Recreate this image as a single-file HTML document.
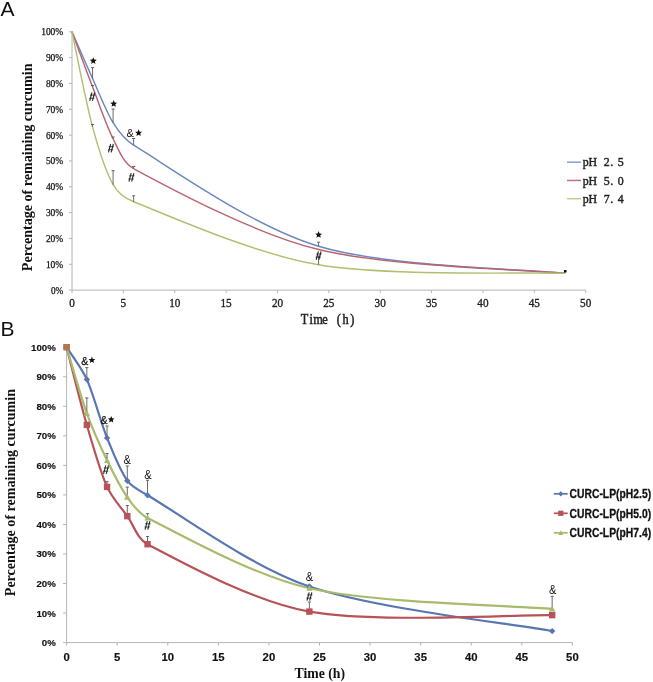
<!DOCTYPE html><html><head><meta charset="utf-8"><style>html,body{margin:0;padding:0;background:#fff;overflow:hidden;width:653px;height:682px}svg{display:block;filter:blur(0.3px)}</style></head><body>
<svg width="653" height="682" viewBox="0 0 653 682">
<rect width="653" height="682" fill="#fff"/>
<text x="0.5" y="16" font-family="Liberation Sans" font-size="21" fill="#111">A</text>
<text x="0.5" y="336.4" font-family="Liberation Sans" font-size="21" fill="#111">B</text>
<g stroke="#b4b4b4" stroke-width="1" fill="none">
<line x1="72.0" y1="31.3" x2="72.0" y2="290.1"/>
<line x1="72.0" y1="290.1" x2="585.7" y2="290.1"/>
<line x1="69.0" y1="290.10" x2="72.0" y2="290.10"/>
<line x1="69.0" y1="264.27" x2="72.0" y2="264.27"/>
<line x1="69.0" y1="238.44" x2="72.0" y2="238.44"/>
<line x1="69.0" y1="212.61" x2="72.0" y2="212.61"/>
<line x1="69.0" y1="186.78" x2="72.0" y2="186.78"/>
<line x1="69.0" y1="160.95" x2="72.0" y2="160.95"/>
<line x1="69.0" y1="135.12" x2="72.0" y2="135.12"/>
<line x1="69.0" y1="109.29" x2="72.0" y2="109.29"/>
<line x1="69.0" y1="83.46" x2="72.0" y2="83.46"/>
<line x1="69.0" y1="57.63" x2="72.0" y2="57.63"/>
<line x1="69.0" y1="31.80" x2="72.0" y2="31.80"/>
<line x1="72.00" y1="290.1" x2="72.00" y2="293.1"/>
<line x1="123.37" y1="290.1" x2="123.37" y2="293.1"/>
<line x1="174.74" y1="290.1" x2="174.74" y2="293.1"/>
<line x1="226.11" y1="290.1" x2="226.11" y2="293.1"/>
<line x1="277.48" y1="290.1" x2="277.48" y2="293.1"/>
<line x1="328.85" y1="290.1" x2="328.85" y2="293.1"/>
<line x1="380.22" y1="290.1" x2="380.22" y2="293.1"/>
<line x1="431.59" y1="290.1" x2="431.59" y2="293.1"/>
<line x1="482.96" y1="290.1" x2="482.96" y2="293.1"/>
<line x1="534.33" y1="290.1" x2="534.33" y2="293.1"/>
<line x1="585.70" y1="290.1" x2="585.70" y2="293.1"/>
</g>
<g font-family="Liberation Serif" font-size="10" fill="#111" stroke="#111" stroke-width="0.25" text-anchor="end">
<text x="63.2" y="293.50" textLength="12.3" lengthAdjust="spacingAndGlyphs">0%</text>
<text x="63.2" y="267.67" textLength="17.3" lengthAdjust="spacingAndGlyphs">10%</text>
<text x="63.2" y="241.84" textLength="17.3" lengthAdjust="spacingAndGlyphs">20%</text>
<text x="63.2" y="216.01" textLength="17.3" lengthAdjust="spacingAndGlyphs">30%</text>
<text x="63.2" y="190.18" textLength="17.3" lengthAdjust="spacingAndGlyphs">40%</text>
<text x="63.2" y="164.35" textLength="17.3" lengthAdjust="spacingAndGlyphs">50%</text>
<text x="63.2" y="138.52" textLength="17.3" lengthAdjust="spacingAndGlyphs">60%</text>
<text x="63.2" y="112.69" textLength="17.3" lengthAdjust="spacingAndGlyphs">70%</text>
<text x="63.2" y="86.86" textLength="17.3" lengthAdjust="spacingAndGlyphs">80%</text>
<text x="63.2" y="61.03" textLength="17.3" lengthAdjust="spacingAndGlyphs">90%</text>
<text x="63.2" y="35.20" textLength="22.0" lengthAdjust="spacingAndGlyphs">100%</text>
</g>
<g font-family="Liberation Serif" font-size="12" fill="#222" stroke="#222" stroke-width="0.35" text-anchor="middle">
<text x="72.00" y="306.6" textLength="5.6" lengthAdjust="spacingAndGlyphs">0</text>
<text x="123.37" y="306.6" textLength="5.6" lengthAdjust="spacingAndGlyphs">5</text>
<text x="174.74" y="306.6" textLength="11.2" lengthAdjust="spacingAndGlyphs">10</text>
<text x="226.11" y="306.6" textLength="11.2" lengthAdjust="spacingAndGlyphs">15</text>
<text x="277.48" y="306.6" textLength="11.2" lengthAdjust="spacingAndGlyphs">20</text>
<text x="328.85" y="306.6" textLength="11.2" lengthAdjust="spacingAndGlyphs">25</text>
<text x="380.22" y="306.6" textLength="11.2" lengthAdjust="spacingAndGlyphs">30</text>
<text x="431.59" y="306.6" textLength="11.2" lengthAdjust="spacingAndGlyphs">35</text>
<text x="482.96" y="306.6" textLength="11.2" lengthAdjust="spacingAndGlyphs">40</text>
<text x="534.33" y="306.6" textLength="11.2" lengthAdjust="spacingAndGlyphs">45</text>
<text x="585.70" y="306.6" textLength="11.2" lengthAdjust="spacingAndGlyphs">50</text>
</g>
<g font-family="Liberation Serif" font-weight="normal" font-size="14.5" fill="#222" stroke="#222" stroke-width="0.5" text-anchor="middle"><text transform="translate(304.43,324.20) scale(0.85,1)">T</text><text transform="translate(311.27,324.20) scale(0.85,1)">i</text><text transform="translate(318.12,324.20) scale(0.85,1)">m</text><text transform="translate(324.98,324.20) scale(0.85,1)">e</text><text transform="translate(338.68,324.20) scale(0.85,1)">(</text><text transform="translate(345.52,324.20) scale(0.85,1)">h</text><text transform="translate(352.38,324.20) scale(0.85,1)">)</text></g>
<text transform="translate(32.0,271.2) rotate(-90)" font-family="Liberation Serif" font-weight="bold" font-size="15" fill="#111" textLength="207.7" lengthAdjust="spacingAndGlyphs">Percentage of remaining curcumin</text>
<path d="M72.00,31.80 C75.42,39.59 85.70,63.40 92.55,78.55 C99.17,93.20 106.25,111.61 113.10,122.72 C118.37,131.27 125.03,140.02 133.64,145.19 C167.89,165.77 251.92,226.40 318.58,246.19 C390.49,267.54 524.06,268.79 565.15,273.31" fill="none" stroke="#6a88bf" stroke-width="1.45"/>
<path d="M72.00,31.80 C75.42,40.97 85.70,69.00 92.55,86.82 C99.16,104.02 106.25,125.09 113.10,138.74 C118.47,149.45 123.09,163.01 133.64,168.70 C167.89,187.17 253.85,233.85 318.58,249.55 C390.49,266.98 524.06,269.35 565.15,273.31" fill="none" stroke="#bb6470" stroke-width="1.45"/>
<path d="M72.00,31.80 C75.42,47.64 85.70,101.37 92.55,126.85 C97.81,146.42 106.25,172.23 113.10,184.71 C117.33,192.44 125.43,198.56 133.64,201.76 C167.89,215.11 254.97,254.24 318.58,264.79 C390.49,276.71 524.06,271.89 565.15,273.31" fill="none" stroke="#b0c070" stroke-width="1.45"/>
<g stroke="#5a5a5a" stroke-width="0.9"><line x1="92.55" y1="78.55" x2="92.55" y2="67.60"/><line x1="90.95" y1="67.60" x2="94.15" y2="67.60"/></g>
<g stroke="#5a5a5a" stroke-width="0.9"><line x1="113.10" y1="122.72" x2="113.10" y2="109.00"/><line x1="111.50" y1="109.00" x2="114.70" y2="109.00"/></g>
<g stroke="#5a5a5a" stroke-width="0.9"><line x1="133.64" y1="145.19" x2="133.64" y2="138.50"/><line x1="132.04" y1="138.50" x2="135.24" y2="138.50"/></g>
<g stroke="#5a5a5a" stroke-width="0.9"><line x1="318.58" y1="246.19" x2="318.58" y2="242.20"/><line x1="316.98" y1="242.20" x2="320.18" y2="242.20"/></g>
<g stroke="#5a5a5a" stroke-width="0.9"><line x1="92.55" y1="86.82" x2="92.55" y2="85.50"/><line x1="90.95" y1="85.50" x2="94.15" y2="85.50"/></g>
<g stroke="#5a5a5a" stroke-width="0.9"><line x1="113.10" y1="138.74" x2="113.10" y2="137.00"/><line x1="111.50" y1="137.00" x2="114.70" y2="137.00"/></g>
<g stroke="#5a5a5a" stroke-width="0.9"><line x1="133.64" y1="168.70" x2="133.64" y2="166.50"/><line x1="132.04" y1="166.50" x2="135.24" y2="166.50"/></g>
<g stroke="#5a5a5a" stroke-width="0.9"><line x1="92.55" y1="126.85" x2="92.55" y2="124.50"/><line x1="90.95" y1="124.50" x2="94.15" y2="124.50"/></g>
<g stroke="#5a5a5a" stroke-width="0.9"><line x1="113.10" y1="184.71" x2="113.10" y2="170.70"/><line x1="111.50" y1="170.70" x2="114.70" y2="170.70"/></g>
<g stroke="#5a5a5a" stroke-width="0.9"><line x1="133.64" y1="201.76" x2="133.64" y2="195.80"/><line x1="132.04" y1="195.80" x2="135.24" y2="195.80"/></g>
<g stroke="#5a5a5a" stroke-width="0.9"><line x1="318.58" y1="264.79" x2="318.58" y2="256.00"/><line x1="316.98" y1="256.00" x2="320.18" y2="256.00"/></g>
<polygon points="93.30,57.20 94.28,59.55 96.82,59.76 94.88,61.41 95.47,63.89 93.30,62.56 91.13,63.89 91.72,61.41 89.78,59.76 92.32,59.55" fill="#111"/><polygon points="113.70,100.10 114.68,102.45 117.22,102.66 115.28,104.31 115.87,106.79 113.70,105.47 111.53,106.79 112.12,104.31 110.18,102.66 112.72,102.45" fill="#111"/><polygon points="318.60,231.10 319.58,233.45 322.12,233.66 320.18,235.31 320.77,237.79 318.60,236.47 316.43,237.79 317.02,235.31 315.08,233.66 317.62,233.45" fill="#111"/><text x="126.6" y="137" font-family="Liberation Sans" font-size="11" fill="#111">&amp;</text><polygon points="138.60,129.30 139.58,131.65 142.12,131.86 140.18,133.51 140.77,135.99 138.60,134.66 136.43,135.99 137.02,133.51 135.08,131.86 137.62,131.65" fill="#111"/><g stroke="#262626" fill="none"><line x1="91.95" y1="92.50" x2="89.75" y2="100.90" stroke-width="1.1"/><line x1="94.65" y1="92.50" x2="92.45" y2="100.90" stroke-width="1.1"/><line x1="90.00" y1="95.10" x2="95.20" y2="95.10" stroke-width="0.85"/><line x1="89.20" y1="98.30" x2="94.40" y2="98.30" stroke-width="0.85"/></g><g stroke="#262626" fill="none"><line x1="110.65" y1="144.00" x2="108.45" y2="152.40" stroke-width="1.1"/><line x1="113.35" y1="144.00" x2="111.15" y2="152.40" stroke-width="1.1"/><line x1="108.70" y1="146.60" x2="113.90" y2="146.60" stroke-width="0.85"/><line x1="107.90" y1="149.80" x2="113.10" y2="149.80" stroke-width="0.85"/></g><g stroke="#262626" fill="none"><line x1="131.15" y1="173.20" x2="128.95" y2="181.60" stroke-width="1.1"/><line x1="133.85" y1="173.20" x2="131.65" y2="181.60" stroke-width="1.1"/><line x1="129.20" y1="175.80" x2="134.40" y2="175.80" stroke-width="0.85"/><line x1="128.40" y1="179.00" x2="133.60" y2="179.00" stroke-width="0.85"/></g><g stroke="#262626" fill="none"><line x1="318.35" y1="251.40" x2="316.15" y2="259.80" stroke-width="1.1"/><line x1="321.05" y1="251.40" x2="318.85" y2="259.80" stroke-width="1.1"/><line x1="316.40" y1="254.00" x2="321.60" y2="254.00" stroke-width="0.85"/><line x1="315.60" y1="257.20" x2="320.80" y2="257.20" stroke-width="0.85"/></g>
<rect x="564" y="270" width="2.5" height="2.5" fill="#111"/>
<line x1="567" y1="162.20" x2="581" y2="162.20" stroke="#8a9fd0" stroke-width="1.5"/>
<g font-family="Liberation Serif" font-weight="normal" font-size="13.5" fill="#222" stroke="#222" stroke-width="0.45" text-anchor="middle"><text transform="translate(585.80,166.40) scale(0.88,1)">p</text><text transform="translate(592.80,166.40) scale(0.88,1)">H</text><text transform="translate(606.80,166.40) scale(0.88,1)">2</text><text transform="translate(611.80,166.40) scale(0.88,1)">.</text><text transform="translate(620.80,166.40) scale(0.88,1)">5</text></g>
<line x1="567" y1="180.45" x2="581" y2="180.45" stroke="#c07080" stroke-width="1.5"/>
<g font-family="Liberation Serif" font-weight="normal" font-size="13.5" fill="#222" stroke="#222" stroke-width="0.45" text-anchor="middle"><text transform="translate(585.80,184.65) scale(0.88,1)">p</text><text transform="translate(592.80,184.65) scale(0.88,1)">H</text><text transform="translate(606.80,184.65) scale(0.88,1)">5</text><text transform="translate(611.80,184.65) scale(0.88,1)">.</text><text transform="translate(620.80,184.65) scale(0.88,1)">0</text></g>
<line x1="567" y1="198.70" x2="581" y2="198.70" stroke="#c0cf8a" stroke-width="1.5"/>
<g font-family="Liberation Serif" font-weight="normal" font-size="13.5" fill="#222" stroke="#222" stroke-width="0.45" text-anchor="middle"><text transform="translate(585.80,202.90) scale(0.88,1)">p</text><text transform="translate(592.80,202.90) scale(0.88,1)">H</text><text transform="translate(606.80,202.90) scale(0.88,1)">7</text><text transform="translate(611.80,202.90) scale(0.88,1)">.</text><text transform="translate(620.80,202.90) scale(0.88,1)">4</text></g>
<g stroke="#b4b4b4" stroke-width="1" fill="none">
<line x1="66.6" y1="347.2" x2="66.6" y2="642.6"/>
<line x1="66.6" y1="642.6" x2="572.4" y2="642.6"/>
<line x1="63.099999999999994" y1="642.60" x2="66.6" y2="642.60"/>
<line x1="63.099999999999994" y1="613.06" x2="66.6" y2="613.06"/>
<line x1="63.099999999999994" y1="583.52" x2="66.6" y2="583.52"/>
<line x1="63.099999999999994" y1="553.98" x2="66.6" y2="553.98"/>
<line x1="63.099999999999994" y1="524.44" x2="66.6" y2="524.44"/>
<line x1="63.099999999999994" y1="494.90" x2="66.6" y2="494.90"/>
<line x1="63.099999999999994" y1="465.36" x2="66.6" y2="465.36"/>
<line x1="63.099999999999994" y1="435.82" x2="66.6" y2="435.82"/>
<line x1="63.099999999999994" y1="406.28" x2="66.6" y2="406.28"/>
<line x1="63.099999999999994" y1="376.74" x2="66.6" y2="376.74"/>
<line x1="63.099999999999994" y1="347.20" x2="66.6" y2="347.20"/>
<line x1="66.60" y1="642.6" x2="66.60" y2="645.6"/>
<line x1="117.18" y1="642.6" x2="117.18" y2="645.6"/>
<line x1="167.76" y1="642.6" x2="167.76" y2="645.6"/>
<line x1="218.34" y1="642.6" x2="218.34" y2="645.6"/>
<line x1="268.92" y1="642.6" x2="268.92" y2="645.6"/>
<line x1="319.50" y1="642.6" x2="319.50" y2="645.6"/>
<line x1="370.08" y1="642.6" x2="370.08" y2="645.6"/>
<line x1="420.66" y1="642.6" x2="420.66" y2="645.6"/>
<line x1="471.24" y1="642.6" x2="471.24" y2="645.6"/>
<line x1="521.82" y1="642.6" x2="521.82" y2="645.6"/>
<line x1="572.40" y1="642.6" x2="572.40" y2="645.6"/>
</g>
<g font-family="Liberation Sans" font-weight="bold" font-size="9.7" fill="#111" stroke="#111" stroke-width="0.15" text-anchor="end">
<text x="55.8" y="646.10">0%</text>
<text x="55.8" y="616.56">10%</text>
<text x="55.8" y="587.02">20%</text>
<text x="55.8" y="557.48">30%</text>
<text x="55.8" y="527.94">40%</text>
<text x="55.8" y="498.40">50%</text>
<text x="55.8" y="468.86">60%</text>
<text x="55.8" y="439.32">70%</text>
<text x="55.8" y="409.78">80%</text>
<text x="55.8" y="380.24">90%</text>
<text x="55.8" y="350.70">100%</text>
</g>
<g font-family="Liberation Sans" font-weight="bold" font-size="10.4" fill="#111" stroke="#111" stroke-width="0.15" text-anchor="middle">
<text x="66.60" y="660.8" textLength="6.3" lengthAdjust="spacingAndGlyphs">0</text>
<text x="117.18" y="660.8" textLength="6.3" lengthAdjust="spacingAndGlyphs">5</text>
<text x="167.76" y="660.8" textLength="12.6" lengthAdjust="spacingAndGlyphs">10</text>
<text x="218.34" y="660.8" textLength="12.6" lengthAdjust="spacingAndGlyphs">15</text>
<text x="268.92" y="660.8" textLength="12.6" lengthAdjust="spacingAndGlyphs">20</text>
<text x="319.50" y="660.8" textLength="12.6" lengthAdjust="spacingAndGlyphs">25</text>
<text x="370.08" y="660.8" textLength="12.6" lengthAdjust="spacingAndGlyphs">30</text>
<text x="420.66" y="660.8" textLength="12.6" lengthAdjust="spacingAndGlyphs">35</text>
<text x="471.24" y="660.8" textLength="12.6" lengthAdjust="spacingAndGlyphs">40</text>
<text x="521.82" y="660.8" textLength="12.6" lengthAdjust="spacingAndGlyphs">45</text>
<text x="572.40" y="660.8" textLength="12.6" lengthAdjust="spacingAndGlyphs">50</text>
</g>
<text x="294.5" y="678" font-family="Liberation Serif" font-weight="bold" font-size="13.7" fill="#111" textLength="50.5" lengthAdjust="spacingAndGlyphs">Time (h)</text>
<text transform="translate(15.4,596.2) rotate(-90)" font-family="Liberation Serif" font-weight="bold" font-size="15" fill="#111" textLength="207.2" lengthAdjust="spacingAndGlyphs">Percentage of remaining curcumin</text>
<path d="M66.60,347.20 C69.97,352.57 81.72,367.94 86.83,379.40 C93.58,394.51 100.32,421.00 107.06,437.89 C112.86,452.41 120.55,471.17 127.30,480.72 C132.03,487.43 140.43,491.07 147.53,495.20 C177.88,512.82 251.25,566.95 309.38,586.47 C376.82,609.12 511.70,623.65 552.17,631.08" fill="none" stroke="#5876b2" stroke-width="2.2"/>
<path d="M66.60,347.20 C69.97,360.15 80.09,401.60 86.83,424.89 C92.82,445.57 100.32,471.71 107.06,486.92 C111.82,497.65 120.55,506.62 127.30,516.17 C133.88,525.49 137.42,538.93 147.53,544.23 C177.88,560.13 252.40,601.60 309.38,611.58 C376.82,623.40 511.70,614.54 552.17,615.13" fill="none" stroke="#b75259" stroke-width="2.2"/>
<path d="M66.60,347.20 C69.97,358.23 80.09,394.51 86.83,413.37 C92.52,429.26 100.32,446.36 107.06,460.34 C113.10,472.85 120.55,487.66 127.30,497.26 C132.78,505.08 138.99,513.67 147.53,517.94 C177.88,533.11 252.57,575.47 309.38,588.25 C376.82,603.41 511.70,605.48 552.17,608.92" fill="none" stroke="#a8ba6c" stroke-width="2.2"/>
<g stroke="#5a5a5a" stroke-width="0.9"><line x1="86.83" y1="379.40" x2="86.83" y2="367.60"/><line x1="85.23" y1="367.60" x2="88.43" y2="367.60"/></g>
<g stroke="#5a5a5a" stroke-width="0.9"><line x1="107.06" y1="437.89" x2="107.06" y2="426.00"/><line x1="105.46" y1="426.00" x2="108.66" y2="426.00"/></g>
<g stroke="#5a5a5a" stroke-width="0.9"><line x1="127.30" y1="480.72" x2="127.30" y2="466.00"/><line x1="125.70" y1="466.00" x2="128.90" y2="466.00"/></g>
<g stroke="#5a5a5a" stroke-width="0.9"><line x1="147.53" y1="495.20" x2="147.53" y2="480.30"/><line x1="145.93" y1="480.30" x2="149.13" y2="480.30"/></g>
<g stroke="#5a5a5a" stroke-width="0.9"><line x1="86.83" y1="413.37" x2="86.83" y2="397.90"/><line x1="85.23" y1="397.90" x2="88.43" y2="397.90"/></g>
<g stroke="#5a5a5a" stroke-width="0.9"><line x1="107.06" y1="460.34" x2="107.06" y2="453.50"/><line x1="105.46" y1="453.50" x2="108.66" y2="453.50"/></g>
<g stroke="#5a5a5a" stroke-width="0.9"><line x1="127.30" y1="497.26" x2="127.30" y2="487.10"/><line x1="125.70" y1="487.10" x2="128.90" y2="487.10"/></g>
<g stroke="#5a5a5a" stroke-width="0.9"><line x1="147.53" y1="517.94" x2="147.53" y2="513.60"/><line x1="145.93" y1="513.60" x2="149.13" y2="513.60"/></g>
<g stroke="#5a5a5a" stroke-width="0.9"><line x1="552.17" y1="608.92" x2="552.17" y2="596.30"/><line x1="550.57" y1="596.30" x2="553.77" y2="596.30"/></g>
<g stroke="#5a5a5a" stroke-width="0.9"><line x1="107.06" y1="486.92" x2="107.06" y2="481.60"/><line x1="105.46" y1="481.60" x2="108.66" y2="481.60"/></g>
<g stroke="#5a5a5a" stroke-width="0.9"><line x1="127.30" y1="516.17" x2="127.30" y2="505.50"/><line x1="125.70" y1="505.50" x2="128.90" y2="505.50"/></g>
<g stroke="#5a5a5a" stroke-width="0.9"><line x1="147.53" y1="544.23" x2="147.53" y2="536.50"/><line x1="145.93" y1="536.50" x2="149.13" y2="536.50"/></g>
<g stroke="#5a5a5a" stroke-width="0.9"><line x1="309.38" y1="611.58" x2="309.38" y2="602.00"/><line x1="307.78" y1="602.00" x2="310.98" y2="602.00"/></g>
<path d="M66.6,344.0 L69.8,347.2 L66.6,350.4 L63.39999999999999,347.2 Z" fill="#5876b2"/>
<path d="M86.832,376.1986 L90.032,379.3986 L86.832,382.5986 L83.63199999999999,379.3986 Z" fill="#5876b2"/>
<path d="M107.064,434.6878 L110.264,437.88779999999997 L107.064,441.08779999999996 L103.86399999999999,437.88779999999997 Z" fill="#5876b2"/>
<path d="M127.29599999999999,477.5208 L130.49599999999998,480.7208 L127.29599999999999,483.9208 L124.09599999999999,480.7208 Z" fill="#5876b2"/>
<path d="M147.528,491.9954 L150.72799999999998,495.1954 L147.528,498.3954 L144.328,495.1954 Z" fill="#5876b2"/>
<path d="M309.384,583.274 L312.584,586.474 L309.384,589.6740000000001 L306.184,586.474 Z" fill="#5876b2"/>
<path d="M552.168,627.8794 L555.368,631.0794000000001 L552.168,634.2794000000001 L548.968,631.0794000000001 Z" fill="#5876b2"/>
<rect x="63.39999999999999" y="344.0" width="6.4" height="6.4" fill="#b75259"/>
<rect x="83.63199999999999" y="421.6902" width="6.4" height="6.4" fill="#b75259"/>
<rect x="103.86399999999999" y="483.72420000000005" width="6.4" height="6.4" fill="#b75259"/>
<rect x="124.09599999999999" y="512.9688" width="6.4" height="6.4" fill="#b75259"/>
<rect x="144.328" y="541.0318" width="6.4" height="6.4" fill="#b75259"/>
<rect x="306.184" y="608.3829999999999" width="6.4" height="6.4" fill="#b75259"/>
<rect x="548.968" y="611.9277999999999" width="6.4" height="6.4" fill="#b75259"/>
<path d="M66.6,344.0 L69.8,349.76 L63.39999999999999,349.76 Z" fill="#a8ba6c"/>
<path d="M86.832,410.1696 L90.032,415.9296 L83.63199999999999,415.9296 Z" fill="#a8ba6c"/>
<path d="M107.064,457.1382 L110.264,462.8982 L103.86399999999999,462.8982 Z" fill="#a8ba6c"/>
<path d="M127.29599999999999,494.0632 L130.49599999999998,499.8232 L124.09599999999999,499.8232 Z" fill="#a8ba6c"/>
<path d="M147.528,514.7411999999999 L150.72799999999998,520.5011999999999 L144.328,520.5011999999999 Z" fill="#a8ba6c"/>
<path d="M309.384,585.0464 L312.584,590.8063999999999 L306.184,590.8063999999999 Z" fill="#a8ba6c"/>
<path d="M552.168,605.7244 L555.368,611.4843999999999 L548.968,611.4843999999999 Z" fill="#a8ba6c"/>
<text x="81.3" y="364.5" font-family="Liberation Sans" font-size="11.5" fill="#111" stroke="#111" stroke-width="0.25" textLength="7" lengthAdjust="spacingAndGlyphs">&amp;</text><polygon points="91.90,356.60 92.85,358.89 95.32,359.09 93.44,360.70 94.02,363.11 91.90,361.82 89.78,363.11 90.36,360.70 88.48,359.09 90.95,358.89" fill="#111"/><text x="100.6" y="423.9" font-family="Liberation Sans" font-size="11.5" fill="#111" stroke="#111" stroke-width="0.25" textLength="7" lengthAdjust="spacingAndGlyphs">&amp;</text><polygon points="111.20,416.00 112.15,418.29 114.62,418.49 112.74,420.10 113.32,422.51 111.20,421.22 109.08,422.51 109.66,420.10 107.78,418.49 110.25,418.29" fill="#111"/><g font-family="Liberation Sans" fill="#111" text-anchor="middle"><text x="127.1" y="464.1" font-size="12.8" textLength="7.4" lengthAdjust="spacingAndGlyphs">&amp;</text><text x="147.9" y="478.8" font-size="12.8" textLength="7.4" lengthAdjust="spacingAndGlyphs">&amp;</text><text x="309.4" y="581.0" font-size="12.8" textLength="7.4" lengthAdjust="spacingAndGlyphs">&amp;</text><text x="552.7" y="594.0" font-size="12.8" textLength="7.4" lengthAdjust="spacingAndGlyphs">&amp;</text></g><g stroke="#262626" fill="none"><line x1="105.75" y1="465.40" x2="103.55" y2="473.80" stroke-width="1.1"/><line x1="108.45" y1="465.40" x2="106.25" y2="473.80" stroke-width="1.1"/><line x1="103.80" y1="468.00" x2="109.00" y2="468.00" stroke-width="0.85"/><line x1="103.00" y1="471.20" x2="108.20" y2="471.20" stroke-width="0.85"/></g><g stroke="#262626" fill="none"><line x1="147.25" y1="521.20" x2="145.05" y2="529.60" stroke-width="1.1"/><line x1="149.95" y1="521.20" x2="147.75" y2="529.60" stroke-width="1.1"/><line x1="145.30" y1="523.80" x2="150.50" y2="523.80" stroke-width="0.85"/><line x1="144.50" y1="527.00" x2="149.70" y2="527.00" stroke-width="0.85"/></g><g stroke="#262626" fill="none"><line x1="309.15" y1="592.30" x2="306.95" y2="600.70" stroke-width="1.1"/><line x1="311.85" y1="592.30" x2="309.65" y2="600.70" stroke-width="1.1"/><line x1="307.20" y1="594.90" x2="312.40" y2="594.90" stroke-width="0.85"/><line x1="306.40" y1="598.10" x2="311.60" y2="598.10" stroke-width="0.85"/></g><g></g>
<rect x="63.70" y="344.30" width="5.8" height="5.8" fill="#b07a48"/>
<line x1="553.8" y1="493.80" x2="567.7" y2="493.80" stroke="#5876b2" stroke-width="1.7"/>
<path d="M560.8,491.2 L563.4,493.8 L560.8,496.40000000000003 L558.1999999999999,493.8 Z" fill="#5876b2"/>
<text x="569.6" y="498.10" font-family="Liberation Sans" font-weight="bold" font-size="12.2" fill="#111" stroke="#111" stroke-width="0.3" textLength="81.5" lengthAdjust="spacingAndGlyphs">CURC-LP(pH2.5)</text>
<line x1="553.8" y1="513.30" x2="567.7" y2="513.30" stroke="#b75259" stroke-width="1.7"/>
<rect x="558.1999999999999" y="510.69999999999993" width="5.2" height="5.2" fill="#b75259"/>
<text x="569.6" y="517.60" font-family="Liberation Sans" font-weight="bold" font-size="12.2" fill="#111" stroke="#111" stroke-width="0.3" textLength="81.5" lengthAdjust="spacingAndGlyphs">CURC-LP(pH5.0)</text>
<line x1="553.8" y1="532.80" x2="567.7" y2="532.80" stroke="#a8ba6c" stroke-width="1.7"/>
<path d="M560.8,530.1999999999999 L563.4,534.88 L558.1999999999999,534.88 Z" fill="#a8ba6c"/>
<text x="569.6" y="537.10" font-family="Liberation Sans" font-weight="bold" font-size="12.2" fill="#111" stroke="#111" stroke-width="0.3" textLength="81.5" lengthAdjust="spacingAndGlyphs">CURC-LP(pH7.4)</text>
</svg></body></html>
